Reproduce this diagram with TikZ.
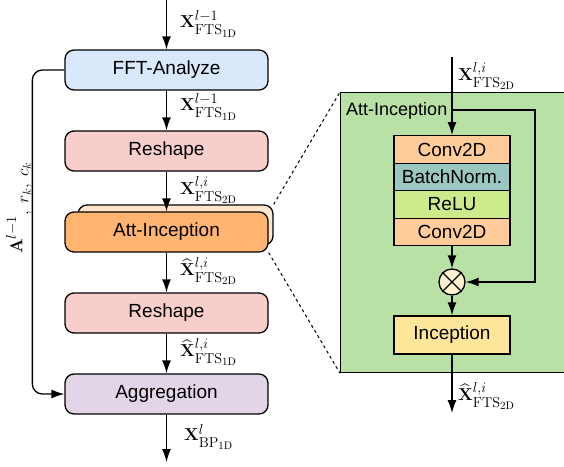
\documentclass[tikz,border=0pt]{standalone}
\usepackage[no-math]{fontspec}
\setmainfont{Liberation Sans}
\usepackage{amsmath}
\DeclareMathSizes{16.5}{16.5}{13.5}{11}
\DeclareMathSizes{17}{17}{13.5}{11}
\DeclareMathSizes{16}{16}{12}{9}
\usetikzlibrary{arrows.meta}
\definecolor{fftc}{HTML}{DAE8FC}
\definecolor{resc}{HTML}{F8CECC}
\definecolor{attc}{HTML}{FFB570}
\definecolor{attbc}{HTML}{FFE6CC}
\definecolor{aggc}{HTML}{E1D5E7}
\definecolor{grnc}{HTML}{B9E0A5}
\definecolor{convc}{HTML}{FFCC99}
\definecolor{bnc}{HTML}{9AC7BF}
\definecolor{reluc}{HTML}{CDEB8B}
\definecolor{incc}{HTML}{FFE599}
\definecolor{mulc}{HTML}{FFF2CC}
\tikzset{
  box/.style={draw, line width=1.3pt, rounded corners=9pt, minimum width=203pt, minimum height=40pt, inner sep=0pt, font=\fontsize{19}{21}\selectfont},
  layer/.style={draw, line width=1.3pt, minimum width=116pt, minimum height=27.5pt, inner sep=0pt, font=\fontsize{19}{21}\selectfont},
  arr/.style={-{Latex[length=13pt,width=9pt]}, line width=1.3pt},
  lab/.style={anchor=west, inner sep=0pt, font=\fontsize{16.5}{18}\selectfont},
}
\begin{document}
\begin{tikzpicture}[x=1pt,y=-1pt]
\useasboundingbox (0,0) rectangle (564,466);
% main column
\coordinate (top) at (166.5,0);
\coordinate (bot) at (166.5,462);
\node[box, fill=fftc] (fft) at (166.5,70) {FFT-Analyze};
\node[box, fill=resc] (res1) at (166.5,151) {Reshape};
\node[box, fill=attbc, minimum width=195pt] (attb) at (175.5,225) {};
\node[box, fill=attc] (att) at (166.5,232) {Att-Inception};
\node[box, fill=resc] (res2) at (166.5,313) {Reshape};
\node[box, fill=aggc] (agg) at (166.5,394) {Aggregation};
\draw[arr] (top) -- (fft.north);
\draw[arr] (fft.south) -- (res1.north);
\draw[arr] (res1.south) -- (att.north);
\draw[arr] (att.south) -- (res2.north);
\draw[arr] (res2.south) -- (agg.north);
\draw[arr] (agg.south) -- (bot);
\draw[arr, rounded corners=10pt] (fft.west) -- ++(-32,0) |- (agg.west);
\node[lab] (l1) at (180,24) {$\mathbf{X}^{l-1}_{\mathrm{FTS}_{\mathrm{1D}}}$};
\node[lab] (l2) at (180,107) {$\mathbf{X}^{l-1}_{\mathrm{FTS}_{\mathrm{1D}}}$};
\node[lab] (l3) at (180,190) {$\mathbf{X}^{l,i}_{\mathrm{FTS}_{\mathrm{2D}}}$};
\node[lab] (l4) at (180,271) {$\widehat{\mathbf{X}}^{l,i}_{\mathrm{FTS}_{\mathrm{2D}}}$};
\node[lab] (l5) at (180,352) {$\widehat{\mathbf{X}}^{l,i}_{\mathrm{FTS}_{\mathrm{1D}}}$};
\node[lab] (l6) at (184,437) {$\mathbf{X}^{l}_{\mathrm{BP}_{\mathrm{1D}}}$};
\node[rotate=90, inner sep=0pt, font=\fontsize{17}{19}\selectfont] (la) at (19,208) {$\mathbf{A}^{l-1}$\raisebox{-6pt}{\fontsize{16}{18}\selectfont$,\;r_k,\;c_k$}};
% detail panel
\node[draw, fill=grnc, line width=1.3pt, minimum width=240pt, minimum height=280pt, anchor=north west, inner sep=0pt] (grn) at (340,92) {};
\draw[dashed, line width=1pt] (attb.north east) -- (grn.north west);
\draw[dashed, line width=1pt] (att.south east) -- (grn.south west);
\node[anchor=west, inner sep=0pt, font=\fontsize{18}{20}\selectfont] (ttl) at (346,111) {Att-Inception};
\node[layer, fill=convc] (c1) at (452,149.5) {Conv2D};
\node[layer, fill=bnc] (bn) at (452,177) {BatchNorm.};
\node[layer, fill=reluc] (relu) at (452,204.5) {ReLU};
\node[layer, fill=convc] (c2) at (452,232) {Conv2D};
\node[circle, draw, fill=mulc, line width=1.3pt, minimum size=26pt, inner sep=0pt] (mul) at (452,282) {};
\draw[line width=1.3pt] (mul.north west) -- (mul.south east) (mul.north east) -- (mul.south west);
\node[layer, fill=incc, minimum height=38pt] (inc) at (452,335) {Inception};
\coordinate (in) at (452,57);
\coordinate (br) at (452,110);
\coordinate (out) at (452,413);
\draw[arr] (in) -- (c1.north);
\draw[arr] (br) -- ++(83,0) |- (mul.east);
\draw[arr] (c2.south) -- (mul.north);
\draw[arr] (mul.south) -- (inc.north);
\draw[arr] (inc.south) -- (out);
\node[lab] (l7) at (458,76) {$\mathbf{X}^{l,i}_{\mathrm{FTS}_{\mathrm{2D}}}$};
\node[lab] (l8) at (458,396) {$\widehat{\mathbf{X}}^{l,i}_{\mathrm{FTS}_{\mathrm{2D}}}$};
\end{tikzpicture}
\end{document}
